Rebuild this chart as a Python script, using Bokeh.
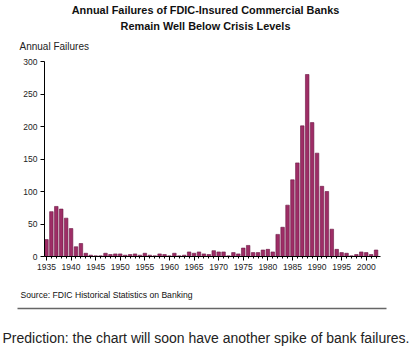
from bokeh.plotting import figure
from bokeh.layouts import column, row
from bokeh.models import Range1d, SingleIntervalTicker, FixedTicker
from bokeh.core.properties import value
from bokeh.embed import file_html
from bokeh.resources import INLINE

years = list(range(1935, 2003))
failures = [26, 69, 77, 73, 59, 43, 15, 20, 5, 2,
            1, 1, 5, 3, 4, 4, 2, 3, 4, 2,
            5, 2, 1, 4, 3, 1, 5, 1, 2, 7,
            5, 7, 4, 3, 9, 7, 7, 1, 6, 4,
            13, 17, 6, 6, 10, 11, 7, 34, 45, 79,
            118, 144, 201, 280, 206, 159, 108, 100, 42, 11,
            6, 5, 1, 3, 7, 6, 3, 10]
y_ticks = [0, 50, 100, 150, 200, 250, 300]

title1 = "Annual Failures of FDIC-Insured Commercial Banks"
title2 = "Remain Well Below Crisis Levels"
y_title = "Annual Failures"
source = "Source: FDIC Historical Statistics on Banking"
caption = "Prediction: the chart will soon have another spike of bank failures."

FONT = "Liberation Sans"
W = 418


class Blank:
    def __init__(self, top_px, bottom_px):
        self.bottom_px = bottom_px
        h = bottom_px - top_px
        f = figure(width=W, height=h, output_backend="svg", toolbar_location=None,
                   x_range=Range1d(0, W), y_range=Range1d(0, h),
                   min_border=0)
        f.axis.visible = False
        f.grid.visible = False
        f.outline_line_color = None
        f.background_fill_color = "white"
        f.border_fill_color = "white"
        self.f = f

    def y(self, py):
        return self.bottom_px - py

    def txt(self, s, x, py, size, align="left", bold=False, color="#111111"):
        self.f.text(x=[x], y=[self.y(py)], text=[s], text_font=value(FONT),
                    text_font_size=value(size), text_align=value(align),
                    text_baseline=value("middle"),
                    text_font_style=value("bold" if bold else "normal"),
                    text_color=color)


# top: titles
top = Blank(0, 55)
top.txt(title1, 205, 9, "10.9px", align="center", bold=True)
top.txt(title2, 205, 25, "10.9px", align="center", bold=True)
top.txt(y_title, 19, 46, "10px", color="#222222")

# main chart
p = figure(width=W, height=227, output_backend="svg", toolbar_location=None,
           x_range=Range1d(1934.6, 2002.9), y_range=Range1d(0, 300),
           min_border_left=44, min_border_right=38, min_border_top=6, min_border_bottom=26)
p.outline_line_color = None
p.xgrid.visible = False
p.ygrid.visible = False
p.background_fill_color = "white"
p.border_fill_color = "white"

p.vbar(x=years, top=failures, width=0.72, fill_color="#9e2d66",
       line_color="#6a1843", line_width=0.6)

p.xaxis.ticker = SingleIntervalTicker(interval=5, num_minor_ticks=5)
p.yaxis.ticker = FixedTicker(ticks=y_ticks)
for ax in (p.xaxis, p.yaxis):
    ax.axis_line_color = "black"
    ax.axis_line_width = 1
    ax.major_tick_line_color = "black"
    ax.minor_tick_line_color = "black"
    ax.major_tick_in = 0
    ax.major_tick_out = 4
    ax.minor_tick_in = 0
    ax.minor_tick_out = 2
    ax.major_label_text_font = FONT
    ax.major_label_text_font_size = "8.5px"
    ax.major_label_text_color = "#222222"
    ax.major_label_standoff = 3
p.yaxis.minor_tick_line_color = None

# bottom: source, rule, caption
bot = Blank(282, 355)
bot.txt(source, 20, 294, "8.6px", color="#111111")
bot.f.segment(x0=[17], y0=[bot.y(308)], x1=[386], y1=[bot.y(308)],
              line_color="#666666", line_width=1.6)
bot.txt(caption, 2, 337, "14px", color="#222222")

layout = column(row(top.f), row(p), row(bot.f), spacing=0)
open("out.html", "w").write(file_html(layout, INLINE))
